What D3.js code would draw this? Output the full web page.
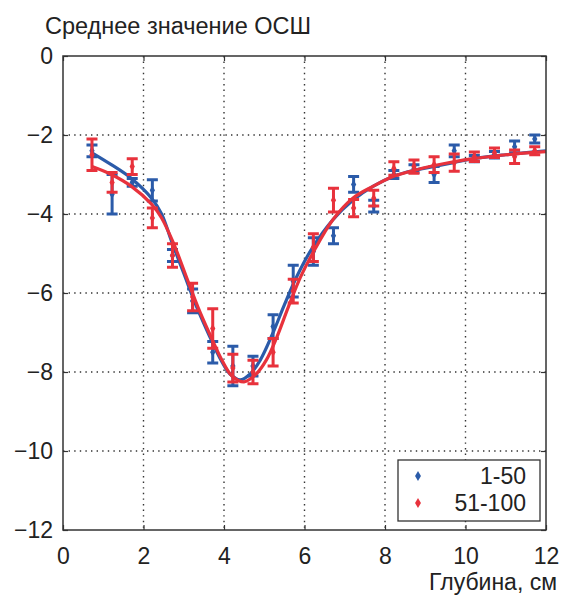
<!DOCTYPE html>
<html>
<head>
<meta charset="utf-8">
<style>
    body { margin: 0; background: #fff; }
    svg { display: block; font-family: "Liberation Sans", Arial, sans-serif; }
    .axis text { font-size: 23px; fill: #222; }
    .axis .domain { display: none; }
    .axis .tick line { stroke: #333; stroke-width: 1.2px; }
    .grid line { stroke: #333; stroke-width: 1.4px; stroke-dasharray: 1.4,4.2; }
</style>
</head>
<body>
<svg width="562" height="595"></svg>
<script src="https://d3js.org/d3.v7.min.js"></script>
<script>
// depth positions of the measurements (cm)
let depth = [0.72, 1.22, 1.72, 2.22, 2.72, 3.22, 3.72, 4.22, 4.72, 5.22, 5.72, 6.22,
             6.72, 7.22, 7.72, 8.22, 8.72, 9.22, 9.72, 10.22, 10.72, 11.22, 11.72];

// series "1-50"
let meanA = [-2.4, -3.5, -3.2, -3.4, -5.05, -6.2, -7.5, -7.85, -7.85, -6.85, -5.7, -4.95,
             -4.55, -3.25, -3.8, -3.0, -2.85, -3.0, -2.4, -2.6, -2.5, -2.3, -2.1];
let errA  = [0.15, 0.5, 0.1, 0.27, 0.15, 0.3, 0.27, 0.5, 0.25, 0.3, 0.4, 0.35,
             0.2, 0.2, 0.15, 0.1, 0.1, 0.2, 0.15, 0.08, 0.08, 0.15, 0.1];

// series "51-100"
let meanB = [-2.5, -3.2, -2.8, -4.1, -5.05, -6.1, -6.9, -7.9, -8.0, -7.5, -5.95, -4.85,
             -3.65, -3.85, -3.6, -2.85, -2.8, -2.75, -2.7, -2.55, -2.45, -2.55, -2.4];
let errB  = [0.4, 0.25, 0.2, 0.25, 0.3, 0.35, 0.5, 0.35, 0.3, 0.35, 0.3, 0.35,
             0.3, 0.22, 0.2, 0.17, 0.17, 0.2, 0.22, 0.12, 0.12, 0.17, 0.1];

// fitted curves
let fitAx = [0.72, 1.2, 1.7, 2.2, 2.45, 2.7, 3.0, 3.3, 3.6, 3.9, 4.15, 4.4, 4.65, 4.9,
             5.2, 5.5, 5.8, 6.2, 6.7, 7.2, 7.7, 8.2, 8.7, 9.2, 9.7, 10.2, 11, 12];
let fitAy = [-2.45, -2.75, -3.1, -3.6, -4.0, -4.7, -5.5, -6.3, -7.0, -7.65, -8.05, -8.2, -8.05, -7.7,
             -7.05, -6.3, -5.6, -4.85, -4.15, -3.65, -3.3, -3.05, -2.9, -2.8, -2.7, -2.6, -2.5, -2.4];
let fitBx = [0.72, 1.2, 1.7, 2.2, 2.45, 2.75, 3.05, 3.35, 3.65, 3.95, 4.2, 4.5, 4.8, 5.05,
             5.3, 5.6, 5.9, 6.2, 6.7, 7.2, 7.7, 8.2, 8.7, 9.2, 9.7, 10.2, 11, 12];
let fitBy = [-2.8, -3.0, -3.3, -3.75, -4.1, -4.75, -5.55, -6.35, -7.05, -7.7, -8.1, -8.25, -8.05, -7.7,
             -7.15, -6.35, -5.6, -5.0, -4.15, -3.6, -3.3, -3.05, -2.9, -2.78, -2.68, -2.6, -2.5, -2.42];

let xTicks = [0, 2, 4, 6, 8, 10, 12];
let yTicks = [0, -2, -4, -6, -8, -10, -12];
let seriesNames = ["1-50", "51-100"];
let colors = ["#2b5ba9", "#e8323c"];

let svg = d3.select("svg");
let margin = { top: 56, right: 16, bottom: 65, left: 63 };
let width = 562, height = 595;

let x = d3.scaleLinear().domain([0, 12]).range([margin.left, width - margin.right]);
let y = d3.scaleLinear().domain([-12, 0]).range([height - margin.bottom, margin.top]);

// dotted grid
let grid = svg.append("g").attr("class", "grid");
grid.selectAll(".gx").data(xTicks.slice(1, -1)).join("line")
    .attr("x1", d => x(d)).attr("x2", d => x(d))
    .attr("y1", y(0)).attr("y2", y(-12));
grid.selectAll(".gy").data(yTicks.slice(1, -1)).join("line")
    .attr("x1", x(0)).attr("x2", x(12))
    .attr("y1", d => y(d)).attr("y2", d => y(d));

// axes with inward ticks on all sides
svg.append("g").attr("class", "axis")
    .attr("transform", `translate(0,${y(-12)})`)
    .call(d3.axisBottom(x).tickValues(xTicks).tickSize(-5).tickPadding(18).tickFormat(d3.format("d")));
svg.append("g").attr("class", "axis")
    .attr("transform", `translate(${x(0)},0)`)
    .call(d3.axisLeft(y).tickValues(yTicks).tickSize(-5).tickPadding(10).tickFormat(d3.format("d")));
svg.append("g").attr("class", "axis")
    .attr("transform", `translate(0,${y(0)})`)
    .call(d3.axisTop(x).tickValues(xTicks).tickSize(-5).tickFormat(""));
svg.append("g").attr("class", "axis")
    .attr("transform", `translate(${x(12)},0)`)
    .call(d3.axisRight(y).tickValues(yTicks).tickSize(-5).tickFormat(""));

let line = d3.line().curve(d3.curveCatmullRom.alpha(0.5))
    .x(d => x(d[0])).y(d => y(d[1]));

let diamond = d3.symbol().type(d3.symbolDiamond).size(24);

function drawSeries(mean, err, fx, fy, color) {
    let g = svg.append("g");
    let rows = depth.map((d, i) => ({ x: d, m: mean[i], e: err[i] }));
    let cap = 5.5;
    g.selectAll(".eb").data(rows).join("path")
        .attr("d", d => {
            let cx = x(d.x), y1 = y(d.m + d.e), y2 = y(d.m - d.e);
            return `M${cx - cap},${y1}H${cx + cap}M${cx},${y1}V${y2}M${cx - cap},${y2}H${cx + cap}`;
        })
        .style("fill", "none").style("stroke", color).style("stroke-width", 3);
    g.selectAll(".pt").data(rows).join("path")
        .attr("transform", d => `translate(${x(d.x)},${y(d.m)})`)
        .attr("d", diamond)
        .style("fill", color);
    g.append("path")
        .attr("d", line(fx.map((v, i) => [v, fy[i]])))
        .style("fill", "none").style("stroke", color).style("stroke-width", 3.2);
}

drawSeries(meanA, errA, fitAx, fitAy, colors[0]);
drawSeries(meanB, errB, fitBx, fitBy, colors[1]);

// frame
svg.append("rect")
    .attr("x", x(0)).attr("y", y(0))
    .attr("width", x(12) - x(0)).attr("height", y(-12) - y(0))
    .style("fill", "none").style("stroke", "#333").style("stroke-width", 1.5);

// legend
let legend = svg.append("g");
legend.append("rect")
    .attr("x", 398).attr("y", 460).attr("width", 142).attr("height", 61)
    .style("fill", "#fff").style("stroke", "#333").style("stroke-width", 1.3);
seriesNames.forEach((name, i) => {
    let ly = 476 + i * 27;
    legend.append("path")
        .attr("transform", `translate(418,${ly})`)
        .attr("d", d3.symbol().type(d3.symbolDiamond).size(30))
        .style("fill", colors[i]);
    legend.append("text")
        .attr("x", 526).attr("y", ly + 8)
        .attr("text-anchor", "end")
        .style("font-size", "23px").style("fill", "#222")
        .text(name);
});

// titles
svg.append("text")
    .attr("x", 45).attr("y", 34)
    .style("font-size", "23.5px").style("fill", "#222")
    .text("Среднее значение ОСШ");
svg.append("text")
    .attr("x", 557).attr("y", 590)
    .attr("text-anchor", "end")
    .style("font-size", "23px").style("fill", "#222")
    .text("Глубина, см");
</script>
</body>
</html>
